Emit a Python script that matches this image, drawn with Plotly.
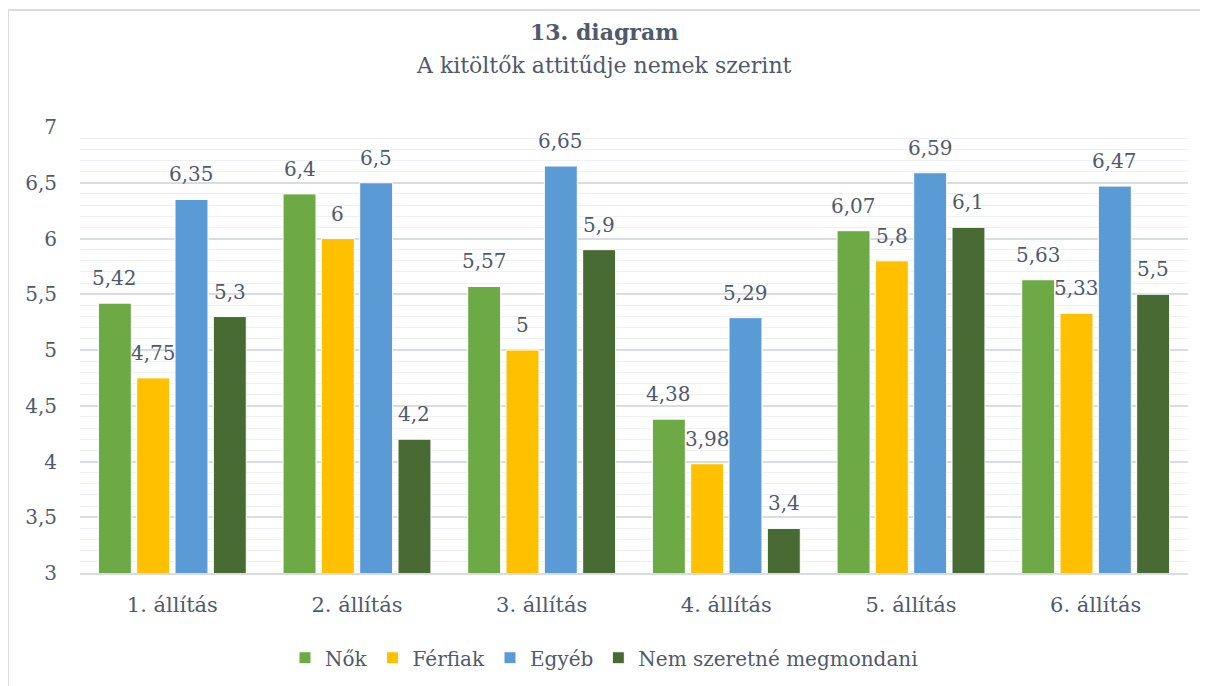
import plotly.graph_objects as go

categories = ["1. állítás", "2. állítás", "3. állítás", "4. állítás", "5. állítás", "6. állítás"]
nok = [5.42, 6.4, 5.57, 4.38, 6.07, 5.63]
ferfiak = [4.75, 6, 5, 3.98, 5.8, 5.33]
egyeb = [6.35, 6.5, 6.65, 5.29, 6.59, 6.47]
nem_mondja = [5.3, 4.2, 5.9, 3.4, 6.1, 5.5]

series = [
    ("Nők", nok, "#6DAA45"),
    ("Férfiak", ferfiak, "#FFC000"),
    ("Egyéb", egyeb, "#5B9BD5"),
    ("Nem szeretné megmondani", nem_mondja, "#486B33"),
]

text_color = "#4F5A6B"
font_family = "DejaVu Serif, Liberation Serif, serif"

# plot area in pixels (the page adds an 8px body margin)
W, H = 1208, 686
ml, mr, mt, mb = 72, 28, 119, 121
plot_w = W - ml - mr
plot_h = H - mt - mb
bargap = 0.17
slot = plot_w / len(categories) * (1 - bargap) / len(series)
page_center = (W / 2 - 8 - ml) / plot_w

fig = go.Figure()
annotations = []
for i, (name, vals, color) in enumerate(series):
    fig.add_trace(go.Bar(
        x=categories, y=vals, name=name,
        marker=dict(color=color, line=dict(color="white", width=1)),
    ))
    for cat, v in zip(categories, vals):
        annotations.append(dict(
            x=cat, y=v, xref="x", yref="y", text=f"{v:g}".replace(".", ","),
            showarrow=False, xanchor="center", yanchor="middle",
            xshift=(i - 1.5) * slot, yshift=25,
            font=dict(size=20, color=text_color),
        ))

annotations.append(dict(text="<b>13. diagram</b>", xref="paper", yref="paper",
                        x=page_center, y=1.213, showarrow=False,
                        xanchor="center", yanchor="middle",
                        font=dict(size=22, color=text_color)))
annotations.append(dict(text="A kitöltők attitűdje nemek szerint", xref="paper", yref="paper",
                        x=page_center, y=1.139, showarrow=False,
                        xanchor="center", yanchor="middle",
                        font=dict(size=22, color=text_color)))

fig.update_layout(
    width=W, height=H,
    separators=",.",
    barmode="group", bargap=bargap, bargroupgap=0.14,
    paper_bgcolor="white", plot_bgcolor="white",
    font=dict(family=font_family, color=text_color, size=20),
    margin=dict(l=ml, r=mr, t=mt, b=mb),
    legend=dict(orientation="h", x=page_center, xanchor="center", y=-0.19, yanchor="middle",
                font=dict(size=20, color=text_color), itemwidth=30, traceorder="normal"),
    xaxis=dict(showline=True, linecolor="#D9DDE3", linewidth=1.5, ticks="",
               tickfont=dict(size=21), ticklabelstandoff=12),
    yaxis=dict(range=[3, 7], dtick=0.5, showline=False, gridcolor="#D9DDE3", gridwidth=1.5,
               zeroline=False, tickfont=dict(size=20), ticklabelstandoff=22,
               minor=dict(dtick=0.1, showgrid=True, gridcolor="#EEF0F3", gridwidth=1)),
    annotations=annotations,
    shapes=[dict(type="rect", xref="paper", yref="paper",
                 x0=-ml / plot_w, x1=1.2, y0=-0.5, y1=(plot_h + mt - 2) / plot_h,
                 line=dict(color="#D9DDE3", width=2), layer="below")],
)

fig.write_html("out.html")
